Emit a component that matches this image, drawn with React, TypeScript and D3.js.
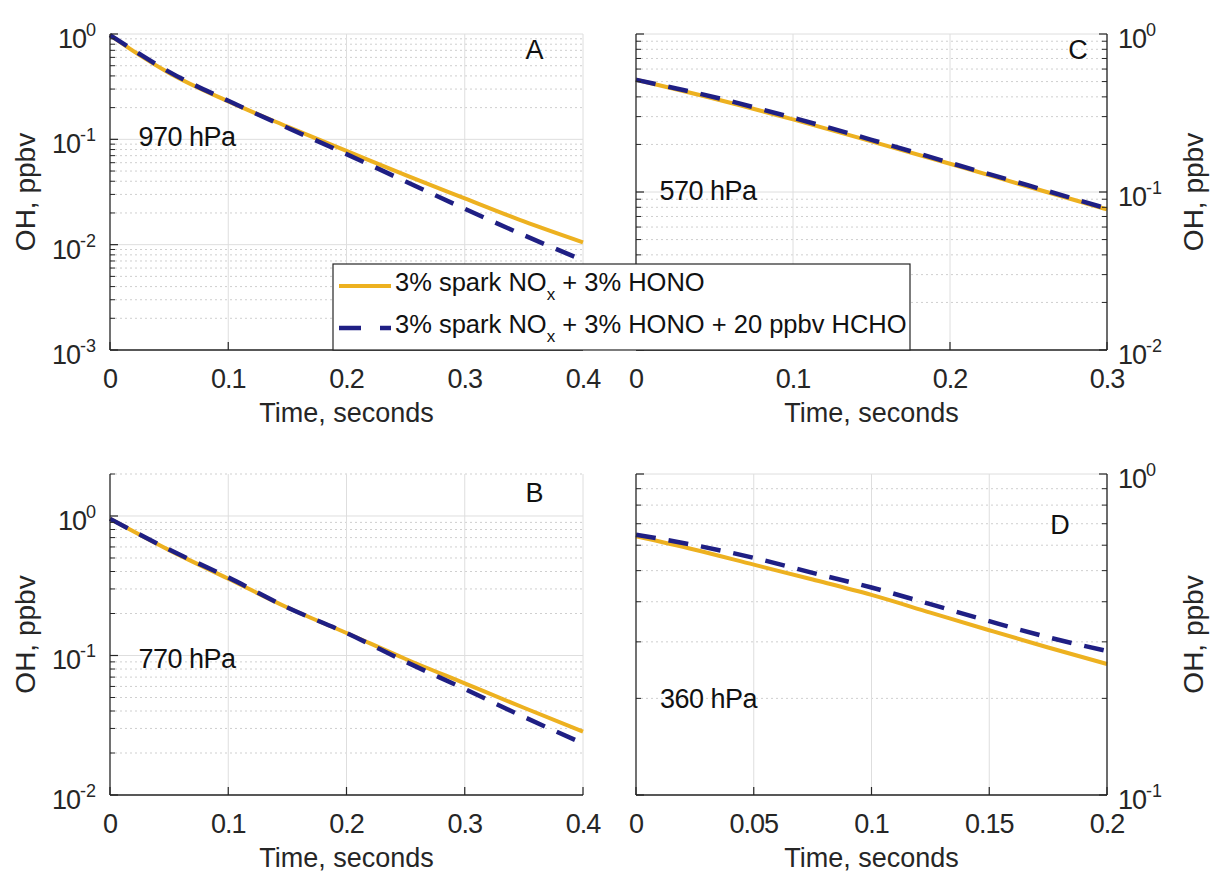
import React, { useRef, useEffect } from 'react';
import * as d3 from 'd3';

// time grids (seconds) for each panel
const timeA = [0, 0.025, 0.05, 0.1, 0.15, 0.2, 0.25, 0.3, 0.35, 0.4];
const timeB = [0, 0.05, 0.1, 0.15, 0.2, 0.25, 0.3, 0.35, 0.4];
const timeC = [0, 0.05, 0.1, 0.15, 0.2, 0.25, 0.3];
const timeD = [0, 0.025, 0.05, 0.075, 0.1, 0.125, 0.15, 0.175, 0.2];

// OH, ppbv - spark NOx + HONO (solid) and + 20 ppbv HCHO (dashed)
const ohA = [0.977, 0.631, 0.427, 0.229, 0.132, 0.0776, 0.0457, 0.0275, 0.0166, 0.0105];
const ohA_hcho = [0.977, 0.646, 0.437, 0.232, 0.129, 0.0724, 0.0398, 0.0219, 0.0123, 0.0071];
const ohB = [0.955, 0.569, 0.355, 0.221, 0.145, 0.0944, 0.0631, 0.0422, 0.0285];
const ohB_hcho = [0.955, 0.575, 0.363, 0.221, 0.145, 0.0902, 0.0575, 0.0363, 0.0234];
const ohC = [0.513, 0.389, 0.288, 0.209, 0.151, 0.108, 0.0776];
const ohC_hcho = [0.513, 0.398, 0.295, 0.214, 0.153, 0.11, 0.0785];
const ohD = [0.64, 0.581, 0.522, 0.469, 0.42, 0.37, 0.326, 0.288, 0.256];
const ohD_hcho = [0.647, 0.6, 0.548, 0.492, 0.443, 0.393, 0.348, 0.31, 0.281];

// x tick values
const ticksA = [0, 0.1, 0.2, 0.3, 0.4];
const ticksB = [0, 0.1, 0.2, 0.3, 0.4];
const ticksC = [0, 0.1, 0.2, 0.3];
const ticksD = [0, 0.05, 0.1, 0.15, 0.2];

const pressures = ['970 hPa', '770 hPa', '570 hPa', '360 hPa'];
const letters = ['A', 'B', 'C', 'D'];
const seriesNames = ['3% spark NO', '3% spark NO'];
const seriesTails = [' + 3% HONO', ' + 3% HONO + 20 ppbv HCHO'];

const YELLOW = '#EDB120';
const NAVY = '#1f1f84';
const INK = '#262626';
const FONT = '"Liberation Sans", Arial, Helvetica, sans-serif';

const panels = [
  { id: 'A', t: timeA, a: ohA, b: ohA_hcho, ticks: ticksA, xMax: 0.4, yDom: [1e-3, 1], side: 'left',
    box: [110, 34, 583, 350], label: pressures[0], labelAt: [0.024, 0.086], letter: letters[0], letterAt: [0.359, 0.58] },
  { id: 'B', t: timeB, a: ohB, b: ohB_hcho, ticks: ticksB, xMax: 0.4, yDom: [1e-2, 2], side: 'left',
    box: [110, 474, 583, 795], label: pressures[1], labelAt: [0.024, 0.081], letter: letters[1], letterAt: [0.359, 1.27] },
  { id: 'C', t: timeC, a: ohC, b: ohC_hcho, ticks: ticksC, xMax: 0.3, yDom: [1e-2, 1], side: 'right',
    box: [636, 34, 1107, 350], label: pressures[2], labelAt: [0.015, 0.0896], letter: letters[2], letterAt: [0.2815, 0.69] },
  { id: 'D', t: timeD, a: ohD, b: ohD_hcho, ticks: ticksD, xMax: 0.2, yDom: [1e-1, 1], side: 'right',
    box: [636, 474, 1107, 795], label: pressures[3], labelAt: [0.0102, 0.186], letter: letters[3], letterAt: [0.18, 0.65] },
];

const App = () => {
  const svgRef = useRef(null);

  useEffect(() => {
    const svg = d3.select(svgRef.current);
    svg.selectAll('*').remove();

    panels.forEach(p => {
      const [x0, y0, x1, y1] = p.box;
      const x = d3.scaleLinear().domain([0, p.xMax]).range([x0, x1]);
      const y = d3.scaleLog().domain(p.yDom).range([y1, y0]);
      const g = svg.append('g');

      // log grid values
      const eMin = Math.floor(Math.log10(p.yDom[0]));
      const eMax = Math.ceil(Math.log10(p.yDom[1]));
      const major = [];
      const minor = [];
      for (let e = eMin; e <= eMax; e++) {
        const v = Math.pow(10, e);
        if (v >= p.yDom[0] * 0.999 && v <= p.yDom[1] * 1.001) major.push(v);
        for (let k = 2; k <= 9; k++) {
          const m = k * v;
          if (m > p.yDom[0] && m <= p.yDom[1] * 1.001) minor.push(m);
        }
      }

      // grid
      g.selectAll('.minor').data(minor).enter().append('line')
        .attr('x1', x0).attr('x2', x1)
        .attr('y1', d => y(d)).attr('y2', d => y(d))
        .attr('stroke', '#cfcfcf').attr('stroke-width', 1).attr('stroke-dasharray', '2 3');
      g.selectAll('.major').data(major).enter().append('line')
        .attr('x1', x0).attr('x2', x1)
        .attr('y1', d => y(d)).attr('y2', d => y(d))
        .attr('stroke', '#dedede').attr('stroke-width', 1);
      g.selectAll('.vgrid').data(p.ticks.filter(d => d > 0)).enter().append('line')
        .attr('x1', d => x(d)).attr('x2', d => x(d))
        .attr('y1', y0).attr('y2', y1)
        .attr('stroke', '#dedede').attr('stroke-width', 1);

      // curves
      const line = d3.line()
        .x((d, i) => x(p.t[i]))
        .y(d => y(d))
        .curve(d3.curveMonotoneX);
      g.append('path').attr('d', line(p.a))
        .attr('fill', 'none').attr('stroke', YELLOW).attr('stroke-width', 4);
      g.append('path').attr('d', line(p.b))
        .attr('fill', 'none').attr('stroke', NAVY).attr('stroke-width', 4.5)
        .attr('stroke-dasharray', '20 13');

      // axes lines
      const axisX = p.side === 'left' ? x0 : x1;
      const dark = [[x0, y1, x1, y1], [axisX, y0, axisX, y1]];
      if (p.side === 'right') dark.push([x0, y0, x0, y1]);
      dark.forEach(l => {
        g.append('line').attr('x1', l[0]).attr('y1', l[1]).attr('x2', l[2]).attr('y2', l[3])
          .attr('stroke', INK).attr('stroke-width', 1.3);
      });

      // y ticks (inward)
      const sides = p.side === 'right' ? [x1, x0] : [x0];
      sides.forEach(sx => {
        const dir = sx === x0 ? 1 : -1;
        major.forEach(v => {
          g.append('line').attr('x1', sx).attr('x2', sx + dir * 8)
            .attr('y1', y(v)).attr('y2', y(v)).attr('stroke', INK).attr('stroke-width', 1.2);
        });
        minor.forEach(v => {
          g.append('line').attr('x1', sx).attr('x2', sx + dir * 5)
            .attr('y1', y(v)).attr('y2', y(v)).attr('stroke', INK).attr('stroke-width', 1);
        });
      });

      // x ticks
      p.ticks.forEach(v => {
        g.append('line').attr('x1', x(v)).attr('x2', x(v))
          .attr('y1', y1).attr('y2', y1 - 8).attr('stroke', INK).attr('stroke-width', 1.2);
        g.append('text').attr('x', x(v)).attr('y', y1 + 38)
          .attr('text-anchor', 'middle').attr('font-family', FONT).attr('font-size', 27)
          .attr('letter-spacing', -1).attr('fill', INK).text(String(v));
      });

      // y tick labels 10^n
      major.forEach(v => {
        const e = Math.round(Math.log10(v));
        const t = g.append('text')
          .attr('y', y(v) + 14)
          .attr('font-family', FONT).attr('font-size', 27).attr('fill', INK);
        if (p.side === 'left') {
          t.attr('x', x0 - 14).attr('text-anchor', 'end');
        } else {
          t.attr('x', x1 + 11).attr('text-anchor', 'start');
        }
        t.append('tspan').attr('letter-spacing', -1).text('10');
        t.append('tspan').attr('dy', -12).attr('font-size', 18).text(String(e));
      });

      // axis labels
      g.append('text').attr('x', (x0 + x1) / 2).attr('y', y1 + 72)
        .attr('text-anchor', 'middle').attr('font-family', FONT).attr('font-size', 27)
        .attr('fill', INK).text('Time, seconds');
      const ly = (y0 + y1) / 2;
      const lx = p.side === 'left' ? 35 : 1203;
      g.append('text').attr('transform', `translate(${lx},${ly}) rotate(-90)`)
        .attr('text-anchor', 'middle').attr('font-family', FONT).attr('font-size', 28)
        .attr('fill', INK).text('OH, ppbv');

      // annotations
      g.append('text').attr('x', x(p.labelAt[0])).attr('y', y(p.labelAt[1]))
        .attr('font-family', FONT).attr('font-size', 27).attr('letter-spacing', -0.5)
        .attr('fill', '#111').text(p.label);
      g.append('text').attr('x', x(p.letterAt[0])).attr('y', y(p.letterAt[1]))
        .attr('text-anchor', 'middle')
        .attr('font-family', FONT).attr('font-size', 27).attr('fill', '#111').text(p.letter);
    });

    // legend
    const legend = svg.append('g').attr('transform', 'translate(333,264)');
    legend.append('rect').attr('x', 0).attr('y', 0).attr('width', 577).attr('height', 86)
      .attr('fill', 'white').attr('stroke', INK).attr('stroke-width', 1.2);
    [0, 1].forEach(i => {
      const ry = 22 + i * 42;
      legend.append('line').attr('x1', 6).attr('x2', 58).attr('y1', ry).attr('y2', ry)
        .attr('stroke', i === 0 ? YELLOW : NAVY).attr('stroke-width', i === 0 ? 4 : 4.5)
        .attr('stroke-dasharray', i === 0 ? null : '22 19');
      const t = legend.append('text').attr('x', 62).attr('y', ry + 5)
        .attr('font-family', FONT).attr('font-size', 25.5).attr('fill', '#111');
      t.append('tspan').text(seriesNames[i]);
      t.append('tspan').attr('dy', 9).attr('font-size', 17).text('x');
      t.append('tspan').attr('dy', -9).text(seriesTails[i]);
    });
  }, []);

  return (
    <svg ref={svgRef} width={1211} height={874}
      style={{ position: 'absolute', left: 0, top: 0, background: 'white' }} />
  );
};

export default App;
